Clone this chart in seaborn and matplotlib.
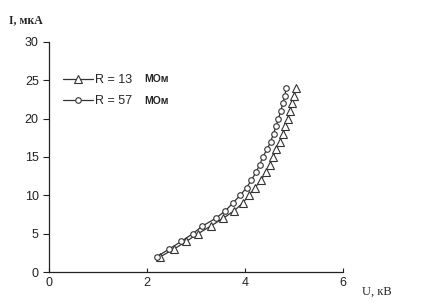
import numpy as np
import pandas as pd
import matplotlib
matplotlib.use("Agg")
import matplotlib.pyplot as plt
import seaborn as sns

# current values, mkA
current = [2, 3, 4, 5, 6, 7, 8, 9, 10, 11, 12, 13, 14, 15, 16, 17, 18, 19, 20, 21, 22, 23, 24]
# voltage, kV, for R = 13 MOhm
u_r13 = [2.27, 2.55, 2.80, 3.04, 3.30, 3.55, 3.78, 3.95, 4.08, 4.20, 4.33, 4.42,
         4.50, 4.57, 4.64, 4.71, 4.77, 4.82, 4.87, 4.92, 4.96, 5.00, 5.03]
# voltage, kV, for R = 57 MOhm
u_r57 = [2.20, 2.45, 2.70, 2.93, 3.13, 3.40, 3.60, 3.75, 3.90, 4.03, 4.13, 4.22,
         4.30, 4.36, 4.45, 4.52, 4.58, 4.63, 4.68, 4.73, 4.77, 4.81, 4.84]
series_names = ["R = 13", "R = 57"]
x_ticks = [0, 2, 4, 6]
y_ticks = [0, 5, 10, 15, 20, 25, 30]

df = pd.concat([
    pd.DataFrame({"U": u_r13, "I": current, "R": series_names[0]}),
    pd.DataFrame({"U": u_r57, "I": current, "R": series_names[1]}),
])

sns.set_style("white")
plt.rcParams["font.family"] = ["Liberation Sans", "DejaVu Sans"]

fig = plt.figure(figsize=(4.31, 3.06), dpi=100)
ax = fig.add_axes([0.114, 0.111, 0.682, 0.752])

ax = sns.lineplot(
    data=df, x="U", y="I", hue="R", style="R",
    sort=False, estimator=None,
    palette=["#333333", "#333333"],
    markers={"R = 13": "^", "R = 57": "o"},
    dashes=False, linewidth=0.9, ax=ax,
)
# open markers with individual sizes
for line, ms in zip(ax.lines[:2], [6, 4]):
    line.set_markerfacecolor("white")
    line.set_markeredgecolor("#333333")
    line.set_markeredgewidth(0.8)
    line.set_markersize(ms)

ax.set_xlim(0, 6)
ax.set_ylim(0, 30)
ax.set_xticks(x_ticks)
ax.set_yticks(y_ticks)
ax.set_xlabel("")
ax.set_ylabel("")
ax.tick_params(axis="y", direction="out", length=4, width=0.8, labelsize=9, colors="#222222")
ax.tick_params(axis="x", direction="in", length=3, width=0.8, labelsize=9, colors="#222222")
ax.tick_params(axis="y", which="both", left=True)
ax.tick_params(axis="x", which="both", bottom=True)
for s in ["top", "right"]:
    ax.spines[s].set_visible(False)
for s in ["left", "bottom"]:
    ax.spines[s].set_color("#222222")
    ax.spines[s].set_linewidth(0.9)

# legend
handles = ax.lines[:2]
leg = ax.legend(handles, series_names, loc="upper left", bbox_to_anchor=(0.01, 0.91),
                frameon=False, fontsize=9, handlelength=2.4, handletextpad=0.1,
                labelspacing=0.75)
ax.text(0.325, 0.84, "МОм", transform=ax.transAxes, fontsize=7.5, fontweight="bold",
        va="center", ha="left")
ax.text(0.325, 0.743, "МОм", transform=ax.transAxes, fontsize=7.5, fontweight="bold",
        va="center", ha="left")

# axis titles
fig.text(0.02, 0.935, "I, мкА", fontsize=8.5, family=["Liberation Serif", "DejaVu Serif"],
         fontweight="bold", ha="left", va="center")
fig.text(0.84, 0.045, "U, кВ", fontsize=9, family=["Liberation Serif", "DejaVu Serif"],
         ha="left", va="center")

fig.savefig("out.png", dpi=100)
